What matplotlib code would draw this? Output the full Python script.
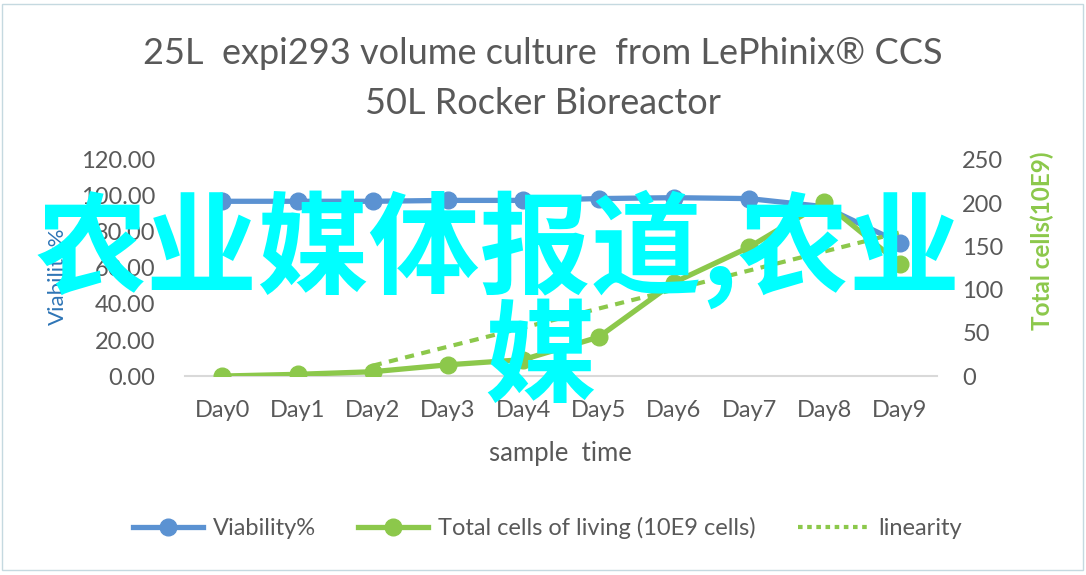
import matplotlib.pyplot as plt
from matplotlib.patches import Rectangle
from matplotlib.lines import Line2D

plt.rcParams['font.family'] = ['Lato', 'DejaVu Sans']

# data
days = ["Day0", "Day1", "Day2", "Day3", "Day4", "Day5", "Day6", "Day7", "Day8", "Day9"]
viability = [97, 97, 97, 97.5, 97.5, 98.5, 99, 98.5, 94, 74]
total_cells = [0, 2, 5, 13, 19, 45, 108, 149, 201, 130]
linearity_days = ["Day2", "Day9"]
linearity = [12, 166]

blue = "#5B92D2"
green = "#8CC84B"
grey = "#595959"

fig = plt.figure(figsize=(10.86, 5.75), dpi=100)
ax = fig.add_axes([0.170, 0.346, 0.693, 0.376])
ax2 = ax.twinx()

x = list(range(len(days)))
lin_x = [days.index(d) for d in linearity_days]

ax.plot(x, viability, color=blue, lw=3.8, marker="o", ms=12, zorder=3)
ax2.plot(x, total_cells, color=green, lw=3.8, marker="o", ms=12, zorder=3)
ax2.plot(lin_x, linearity, color=green, lw=3, linestyle=(0, (2.2, 1.8)), zorder=2)

ax.set_xlim(-0.5, len(days) - 0.5)
ax.set_ylim(0, 120)
ax2.set_ylim(0, 250)
ax.set_xticks(x)
ax.set_xticklabels(days)
ax.set_yticks(range(0, 121, 20))
ax.set_yticklabels([f"{v:.2f}" for v in range(0, 121, 20)])
ax2.set_yticks(range(0, 251, 50))

for a in (ax, ax2):
    for s in a.spines.values():
        s.set_visible(False)
    a.tick_params(length=0, labelsize=17, colors=grey)
ax.spines["bottom"].set_visible(True)
ax.spines["bottom"].set_color("#D9D9D9")
ax.spines["bottom"].set_linewidth(1.5)
ax.tick_params(axis="y", pad=21)
ax.tick_params(axis="x", pad=17)
ax2.tick_params(axis="y", pad=18)

ax.set_xlabel("sample  time", fontsize=18.5, color=grey, labelpad=15)

fig.text(0.0535, 0.520, "Viability%", rotation=90, fontsize=16, color="#2E75B6",
         ha="center", va="center")
fig.text(0.960, 0.581, "Total cells(10E9)", rotation=90, fontsize=17.5, color=green,
         ha="center", va="center", fontweight="bold")

fig.text(0.5, 0.907, "25L  expi293 volume culture  from LePhinix\u00ae CCS",
         fontsize=26, color=grey, ha="center", va="center")
fig.text(0.5, 0.820, "50L Rocker Bioreactor", fontsize=26, color=grey,
         ha="center", va="center")

handles = [
    Line2D([], [], color=blue, lw=3.8, marker="o", ms=12),
    Line2D([], [], color=green, lw=3.8, marker="o", ms=12),
    Line2D([], [], color=green, lw=3, linestyle=(0, (1.1, 1.1))),
]
labels = ["Viability%", "Total cells of living (10E9 cells)", "linearity"]
fig.legend(handles, labels, loc="center", bbox_to_anchor=(0.504, 0.082), ncol=3,
           frameon=False, fontsize=17, handlelength=2.95, handletextpad=0.42,
           columnspacing=1.8, labelcolor=grey)

# border of the chart area
fig.patches.append(Rectangle((0.002, 0.008), 0.995, 0.985, transform=fig.transFigure,
                             fill=False, edgecolor="#C5D9E0", lw=1))

# watermark text over the chart
fig.text(0.459, 0.567, "农业媒体报道,农业", fontsize=80, color="#00FFFF",
         ha="center", va="center", family=["Noto Sans CJK SC"], fontweight="bold", zorder=10)
fig.text(0.497, 0.372, "媒", fontsize=80, color="#00FFFF",
         ha="center", va="center", family=["Noto Sans CJK SC"], fontweight="bold", zorder=10)

fig.savefig("out.png", dpi=100)
